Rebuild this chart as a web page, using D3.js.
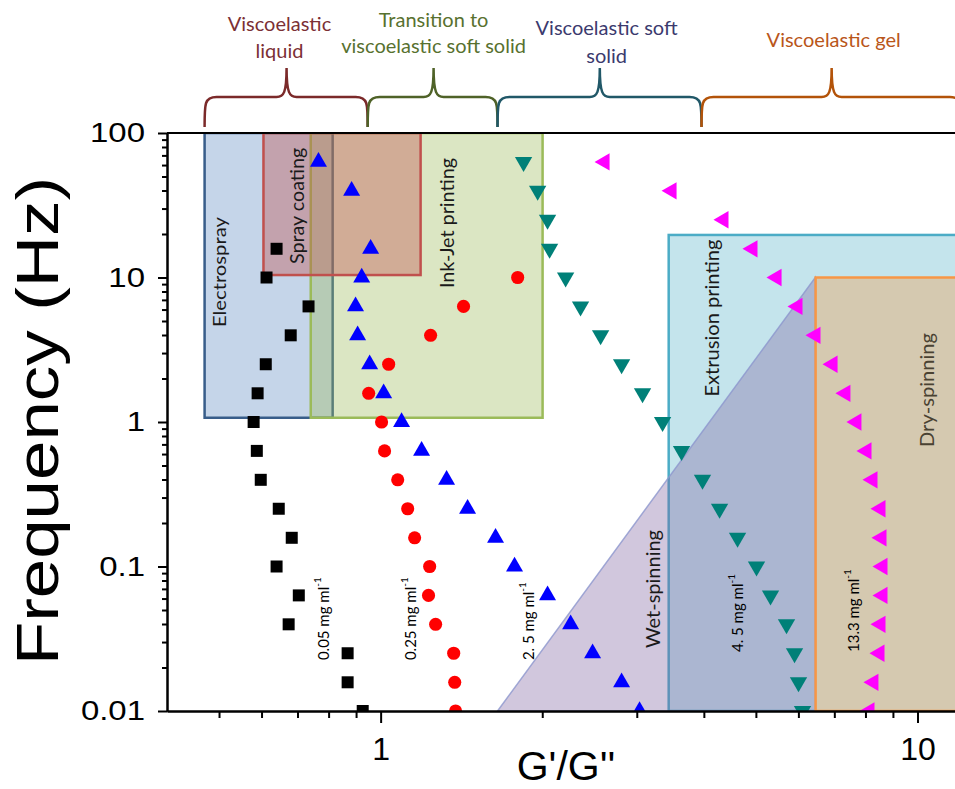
<!DOCTYPE html>
<html>
<head>
<meta charset="utf-8">
<script src="https://cdn.jsdelivr.net/npm/d3@7"></script>
<style>
	body { margin: 0; background: #fff; }
	svg { display: block; }
	.axis path, .axis line { stroke: #000; stroke-width: 2; }
	.axis text { font-family: "Liberation Sans", Arial, sans-serif; fill: #000; }
	.box_label { font-family: Lato, sans-serif; fill: #1a1a1a; }
	.conc_label { font-family: Lato, sans-serif; fill: #000; font-size: 15px; }
	.phase_label { font-family: Lato, sans-serif; font-size: 20px; }
</style>
</head>
<body>
<div id="chart"></div>
<script>

// frequency grid (Hz), shared by all samples
let freqs = [63.1, 39.8, 25.1, 15.8, 10, 6.31, 3.98, 2.51, 1.58, 1,
	0.631, 0.398, 0.251, 0.158, 0.1, 0.0631, 0.0398, 0.0251, 0.0158, 0.01];

// G'/G'' for each concentration (null = no point)
let ratio_005 = [null, null, null, 0.640, 0.613, 0.734, 0.680, 0.611, 0.590, 0.580,
	0.588, 0.598, 0.646, 0.683, 0.640, 0.704, 0.674, 0.868, 0.868, 0.926];
let ratio_025 = [null, null, null, null, 1.80, 1.427, 1.239, 1.035, 0.950, 1.004,
	1.017, 1.076, 1.123, 1.157, 1.234, 1.228, 1.266, 1.368, 1.374, 1.379];
let ratio_25 = [0.766, 0.883, null, 0.958, 0.922, 0.898, 0.906, 0.954, 1.013, 1.094,
	1.192, 1.327, 1.452, 1.637, 1.776, 2.046, 2.259, 2.482, 2.811, 3.036];
let ratio_45 = [1.846, 1.961, 2.046, 2.064, 2.211, 2.357, 2.569, 2.811, 3.075, 3.351,
	3.635, 3.977, 4.279, 4.622, 5.014, 5.324, 5.702, 5.902, 6.003, 6.107];
let ratio_133 = [2.613, 3.483, 4.352, 4.928, 5.463, 5.977, 6.457, 6.947, 7.341, 7.697,
	8.035, 8.245, 8.533, 8.570, 8.607, 8.607, 8.533, 8.496, 8.279, 8.139];

let series_names = ["0.05 mg ml", "0.25 mg ml", "2. 5 mg ml", "4. 5 mg ml", "13.3 mg ml"];
let series_values = [ratio_005, ratio_025, ratio_25, ratio_45, ratio_133];

// processing windows: G'/G'' range and frequency range
let box_names = ["Electrospray", "Ink-Jet printing", "Spray coating", "Extrusion printing", "Dry-spinning"];
let box_ratio = [[0.47, 0.814], [0.741, 2.003], [0.605, 1.187], [3.44, 12], [6.46, 12]];
let box_freq = [[1.07, 100], [1.07, 100], [10.4, 100], [0.01, 19.7], [0.01, 10]];

// wet-spinning triangle corners [G'/G'', Hz]
let wet_corners = [[1.651, 0.01], [6.45, 10], [6.45, 0.01]];

// rheological regimes along the top
let phase_lines = [["Viscoelastic", "liquid"], ["Transition to", "viscoelastic soft solid"],
	["Viscoelastic soft", "solid"], ["Viscoelastic gel"]];
let phase_start = [0.47, 0.946, 1.651, 3.96];
let phase_tip = [0.668, 1.255, 2.56, 6.92];
let phase_end = [0.946, 1.651, 3.96, 12.1];

// axis ticks
let y_major = [0.01, 0.1, 1, 10, 100];
let y_tick_labels = ["0.01", "0.1", "1", "10", "100"];
let x_major = [1, 10];
let x_tick_labels = ["1", "10"];

let width = 955, height = 789;

let svg = d3.select("#chart")
	.append("svg")
	.attr("width", width)
	.attr("height", height);

// scales
let x_scale = d3.scaleLog()
	.domain([0.4, 12])
	.range([167, 960]);

let y_scale = d3.scaleLog()
	.domain([0.01, 100])
	.range([711, 133]);

//clip for the plotting area
svg.append("clipPath")
	.attr("id", "plot_clip")
	.append("rect")
	.attr("x", x_scale(0.4))
	.attr("y", y_scale(100))
	.attr("width", x_scale(12) - x_scale(0.4))
	.attr("height", y_scale(0.01) - y_scale(100));

let plot = svg.append("g").attr("clip-path", "url(#plot_clip)");

let box_fill = ["rgba(79,129,189,0.33)", "rgba(155,187,89,0.36)", "rgba(192,80,77,0.38)",
	"rgba(75,172,198,0.33)", "#d5c9b0"];
let box_stroke = ["#385d8a", "#9bbb59", "#c0504d", "#4bacc6", "#f79646"];

function draw_box(i) {
	plot.append("rect")
		.attr("x", x_scale(box_ratio[i][0]))
		.attr("y", y_scale(box_freq[i][1]))
		.attr("width", x_scale(box_ratio[i][1]) - x_scale(box_ratio[i][0]))
		.attr("height", y_scale(box_freq[i][0]) - y_scale(box_freq[i][1]))
		.attr("fill", box_fill[i])
		.attr("stroke", box_stroke[i])
		.attr("stroke-width", 2.5);
}

draw_box(0);
draw_box(1);
draw_box(2);
draw_box(3);

//wet spinning area
plot.append("path")
	.datum(wet_corners)
	.attr("d", d3.line().x(d => x_scale(d[0])).y(d => y_scale(d[1])).curve(d3.curveLinearClosed))
	.attr("fill", "rgba(128,100,162,0.36)")
	.attr("stroke", "rgba(140,150,205,0.8)")
	.attr("stroke-width", 1.5);

draw_box(4);

// labels inside the windows
function box_label(text, xv, yv, size, len, color) {
	svg.append("text")
		.attr("class", "box_label")
		.attr("transform", "translate(" + x_scale(xv) + "," + y_scale(yv) + ") rotate(-90)")
		.attr("text-anchor", "middle")
		.attr("dominant-baseline", "central")
		.attr("textLength", len)
		.attr("lengthAdjust", "spacingAndGlyphs")
		.style("font-size", size + "px")
		.style("fill", color || "#1a1a1a")
		.text(text);
}

box_label(box_names[0], 0.501, 10.9, 18, 110);
box_label(box_names[2], 0.695, 31.3, 20, 116);
box_label(box_names[1], 1.321, 23.8, 20, 130);
box_label(box_names[3], 4.133, 5.24, 19, 157);
box_label(box_names[4], 10.39, 1.665, 20, 114, "#4a4232");
box_label("Wet-spinning", 3.197, 0.0699, 20, 118);

// data points
let marker_type = [d3.symbolSquare, d3.symbolCircle, d3.symbolTriangle, d3.symbolTriangle, d3.symbolTriangle];
let marker_size = [144, 135, 125, 130, 130];
let marker_rotate = [0, 0, 0, 180, -90];
let marker_color = ["#000000", "#ff0000", "#0000ff", "#008078", "#ff00ff"];

series_values.forEach((vals, s) => {
	let pts = vals.map((v, i) => ({ratio: v, freq: freqs[i]})).filter(d => d.ratio !== null);
	plot.selectAll(".pt" + s)
		.data(pts)
		.enter()
		.append("path")
		.attr("class", "pt" + s)
		.attr("d", d3.symbol().type(marker_type[s]).size(marker_size[s]))
		.attr("transform", d => "translate(" + x_scale(d.ratio) + "," + y_scale(d.freq) + ") rotate(" + marker_rotate[s] + ")")
		.attr("fill", marker_color[s]);
});

// concentration labels
let conc_pos = [[0.78, 0.0225], [1.132, 0.0225], [1.878, 0.0225], [4.62, 0.0256], [7.57, 0.0256]];
series_names.forEach((name, s) => {
	let t = svg.append("text")
		.attr("class", "conc_label")
		.attr("transform", "translate(" + x_scale(conc_pos[s][0]) + "," + y_scale(conc_pos[s][1]) + ") rotate(-90)")
		.attr("dominant-baseline", "central");
	t.append("tspan").text(name);
	t.append("tspan").attr("baseline-shift", "super").style("font-size", "10px").text("-1");
});

// axes
let x_axis = d3.axisBottom(x_scale)
	.tickValues(x_major)
	.tickFormat((d, i) => x_tick_labels[i])
	.tickSize(12)
	.tickSizeOuter(0);

let x_minor = d3.axisBottom(x_scale)
	.tickValues([0.5, 0.6, 0.7, 0.8, 0.9, 2, 3, 4, 5, 6, 7, 8, 9])
	.tickFormat("")
	.tickSize(7)
	.tickSizeOuter(0);

let gx = svg.append("g")
	.attr("class", "axis")
	.attr("transform", "translate(0," + y_scale(0.01) + ")")
	.call(x_axis);
gx.selectAll("text").attr("y", 26).style("font-size", "32px");
svg.append("g")
	.attr("class", "axis")
	.attr("transform", "translate(0," + y_scale(0.01) + ")")
	.call(x_minor);

let y_minor_vals = [];
[0.01, 0.1, 1, 10].forEach(d => { for (let k = 2; k < 10; k++) y_minor_vals.push(d * k); });

let y_axis = d3.axisLeft(y_scale)
	.tickValues(y_major)
	.tickFormat((d, i) => y_tick_labels[i])
	.tickSize(9)
	.tickSizeOuter(0);

let gy = svg.append("g")
	.attr("class", "axis")
	.attr("transform", "translate(" + x_scale(0.4) + ",0)")
	.call(y_axis);
gy.selectAll("text")
	.attr("x", -22)
	.style("font-size", "27px")
	.each(function () {
		let w = this.getComputedTextLength();
		d3.select(this).attr("textLength", w * 1.22).attr("lengthAdjust", "spacingAndGlyphs");
	});

svg.append("g")
	.attr("class", "axis")
	.attr("transform", "translate(" + x_scale(0.4) + ",0)")
	.call(d3.axisLeft(y_scale).tickValues(y_minor_vals).tickFormat("").tickSize(5).tickSizeOuter(0));

//top frame line
svg.append("line")
	.attr("x1", x_scale(0.4))
	.attr("x2", x_scale(12))
	.attr("y1", y_scale(100))
	.attr("y2", y_scale(100))
	.attr("stroke", "#000")
	.attr("stroke-width", 2);

// axis titles
svg.append("text")
	.attr("transform", "translate(58," + 421 + ") rotate(-90)")
	.attr("text-anchor", "middle")
	.attr("textLength", 488)
	.attr("lengthAdjust", "spacingAndGlyphs")
	.style("font-family", "'Liberation Sans', Arial, sans-serif")
	.style("font-size", "60px")
	.text("Frequency (Hz)");

svg.append("text")
	.attr("x", 566)
	.attr("y", 780)
	.attr("text-anchor", "middle")
	.style("font-family", "'Liberation Sans', Arial, sans-serif")
	.style("font-size", "41px")
	.text("G'/G''");

// braces and regime names
let brace_color = ["#7b2a2a", "#4f6228", "#215868", "#b35309"];
let phase_color = ["#7b3035", "#58712f", "#3b3a6e", "#b9561a"];
let phase_x = [0.648, 1.255, 2.636, 6.98];
let phase_base = [[31, 58], [27, 53], [35, 63], [47]];

function brace_path(x1, xm, x2) {
	let yb = 127, yh = 97, yt = 68;
	return "M" + x1 + "," + yb +
		" C" + x1 + "," + (yh + 6) + " " + x1 + "," + yh + " " + (x1 + 12) + "," + yh +
		" L" + (xm - 10) + "," + yh +
		" C" + (xm - 3) + "," + yh + " " + xm + "," + (yh - 4) + " " + xm + "," + yt +
		" C" + xm + "," + (yh - 4) + " " + (xm + 3) + "," + yh + " " + (xm + 10) + "," + yh +
		" L" + (x2 - 12) + "," + yh +
		" C" + x2 + "," + yh + " " + x2 + "," + (yh + 6) + " " + x2 + "," + yb;
}

phase_lines.forEach((lines, i) => {
	svg.append("path")
		.attr("d", brace_path(x_scale(phase_start[i]), x_scale(phase_tip[i]), x_scale(phase_end[i])))
		.attr("fill", "none")
		.attr("stroke", brace_color[i])
		.attr("stroke-width", 2.5);
	lines.forEach((line, k) => {
		svg.append("text")
			.attr("class", "phase_label")
			.attr("x", x_scale(phase_x[i]))
			.attr("y", phase_base[i][k])
			.attr("text-anchor", "middle")
			.style("fill", phase_color[i])
			.text(line);
	});
});

</script>
</body>
</html>
